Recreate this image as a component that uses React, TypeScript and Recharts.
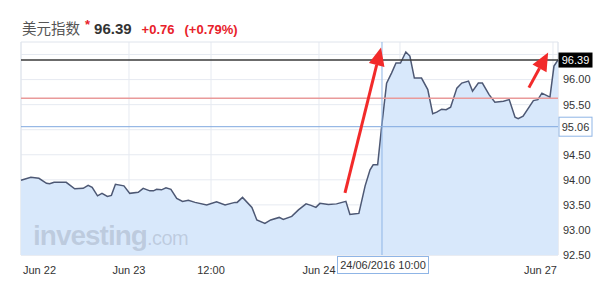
import React from "react";
import {
  ComposedChart,
  Area,
  XAxis,
  YAxis,
  CartesianGrid,
  ReferenceLine,
  ReferenceArea,
} from "recharts";

// sample position along the (gap-free) trading timeline, and the index level
const times = [
  0, 2.2, 4.0, 5.7, 6.4, 7.4, 10.1, 12.0, 13.9, 15.0, 15.9, 17.1, 18.1, 19.3, 20.2, 21.1, 23.0,
  24.3, 26.2, 27.3, 28.8, 29.6, 30.3, 31.4, 32.4, 33.5, 34.8, 36.1, 37.4, 38.9, 41.5, 43.7, 45.6,
  47.8, 48.3, 49.5, 51.6, 52.7, 54.5, 55.8, 57.7, 58.6, 60.5, 62.0, 63.7, 64.8, 65.9, 66.8, 68.7,
  70.5, 72.6, 73.5, 74.3, 75.5, 76.9, 78.0, 78.7, 79.7, 80.6, 81.7, 82.8, 83.8, 84.8, 86.0, 86.9,
  87.9, 89.5, 90.9, 92.0, 92.9, 94.0, 95.0, 96.0, 97.4, 98.5, 100.0, 100.9, 102.2, 103.1, 104.6,
  105.9, 107.8, 109.1, 110.4, 111.1, 112.2, 114.5, 115.5, 116.4, 118.2, 119.1, 120,
];
const dxy = [
  93.99, 94.05, 94.03, 93.93, 93.92, 93.95, 93.95, 93.82, 93.83, 93.89, 93.85, 93.68, 93.73, 93.67,
  93.69, 93.91, 93.88, 93.73, 93.75, 93.83, 93.78, 93.78, 93.81, 93.8, 93.84, 93.81, 93.63, 93.57,
  93.59, 93.55, 93.5, 93.56, 93.5, 93.55, 93.55, 93.65, 93.45, 93.2, 93.13, 93.2, 93.25, 93.21,
  93.27, 93.4, 93.52, 93.49, 93.45, 93.53, 93.51, 93.52, 93.57, 93.31, 93.32, 93.33, 93.88, 94.2,
  94.3, 94.3, 95.07, 95.93, 96.13, 96.33, 96.33, 96.55, 96.47, 96.03, 96.03, 95.8, 95.32, 95.35,
  95.41, 95.4, 95.45, 95.83, 95.93, 95.97, 95.77, 95.93, 95.93, 95.7, 95.55, 95.57, 95.6, 95.25,
  95.22, 95.27, 95.58, 95.6, 95.73, 95.65, 96.27, 96.39,
];

// the 5th tick sits under the crosshair date box, so its label is blank
const xTicks = [0, 24.13, 42.46, 66.59, 84.69, 118.88];
const xLabels = ["Jun 22", "Jun 23", "12:00", "Jun 24", "", "Jun 27"];
const yTicks = [92.5, 93, 93.5, 94, 94.5, 95.5, 96];
const yGrid = [92.5, 93, 93.5, 94, 94.5, 95, 95.5, 96, 96.5];

const lastPrice = 96.39;
const redLevel = 95.63;
const blueLevel = 95.06;
const cursorTime = 80.67;
const cursorLabel = "24/06/2016 10:00";

// annotation arrows: [tailTime, tailValue, tipTime, tipValue]
const arrows = [
  [72.4, 93.74, 80.45, 96.64],
  [113.5, 95.84, 117.8, 96.54],
];

const data = times.map((t, i) => ({ t, v: dxy[i] }));

const FONT = "Arial, 'Liberation Sans', sans-serif";

function XTick(props: any) {
  const { x, y, index } = props;
  const last = index === xTicks.length - 1;
  const anchor = index === 0 ? "start" : last ? "end" : "middle";
  const dx = index === 0 ? 2 : last ? 4 : 0;
  if (!xLabels[index]) return <g />;
  return (
    <text x={x + dx} y={y + 19} textAnchor={anchor} fontSize={11} fill="#333" fontFamily={FONT}>
      {xLabels[index]}
    </text>
  );
}

function PriceBox({ viewBox, value, dark }: any) {
  const x = viewBox.x + viewBox.width + 1;
  const y = viewBox.y;
  const h = dark ? 14 : 19;
  return (
    <g>
      <rect
        x={x}
        y={y - h / 2}
        width={33}
        height={h}
        fill={dark ? "#000" : "#fff"}
        stroke={dark ? "#000" : "#8fb5e6"}
      />
      <text
        x={x + 16.5}
        y={y + 4}
        textAnchor="middle"
        fontSize={11}
        fill={dark ? "#fff" : "#333"}
        fontFamily={FONT}
      >
        {value.toFixed(2)}
      </text>
    </g>
  );
}

function Arrow(props: any) {
  const { x1, y1, x2, y2 } = props;
  const ang = Math.atan2(y2 - y1, x2 - x1);
  const len = 18;
  const w = 8;
  const bx = x2 - len * Math.cos(ang);
  const by = y2 - len * Math.sin(ang);
  const px = -Math.sin(ang) * w;
  const py = Math.cos(ang) * w;
  return (
    <g>
      <line x1={x1} y1={y1} x2={bx} y2={by} stroke="#f22a2a" strokeWidth={3} />
      <polygon points={`${x2},${y2} ${bx + px},${by + py} ${bx - px},${by - py}`} fill="#f22a2a" />
    </g>
  );
}

export default function App() {
  return (
    <div style={{ position: "absolute", left: 0, top: 0, width: 600, height: 287, background: "#fff", fontFamily: FONT }}>
      <div style={{ position: "absolute", left: 22, top: 17, display: "flex", alignItems: "baseline", whiteSpace: "nowrap" }}>
        <span style={{ fontFamily: "'Noto Sans CJK SC', sans-serif", fontSize: 14.5, color: "#555" }}>美元指数</span>
        <span style={{ color: "#e8212a", fontSize: 13, fontWeight: "bold", marginLeft: 5, position: "relative", top: -5 }}>*</span>
        <span style={{ fontSize: 15, fontWeight: "bold", color: "#333", marginLeft: 4 }}>96.39</span>
        <span style={{ fontSize: 13, fontWeight: "bold", color: "#e8212a", marginLeft: 10 }}>+0.76</span>
        <span style={{ fontSize: 13, fontWeight: "bold", color: "#e8212a", marginLeft: 10 }}>(+0.79%)</span>
      </div>
      <ComposedChart
        width={600}
        height={287}
        data={data}
        margin={{ top: 42, left: 21, right: 0, bottom: 0 }}
      >
        <ReferenceArea x1={0} x2={120} y1={92.5} y2={96.75} fill="none" stroke="#dfe4ec" ifOverflow="visible" />
        <CartesianGrid stroke="#e6eaf1" horizontalValues={yGrid} />
        <XAxis
          type="number"
          dataKey="t"
          domain={[0, 120]}
          ticks={xTicks}
          height={32}
          axisLine={false}
          tickLine={false}
          tickSize={0}
          tickMargin={0}
          tick={<XTick />}
          interval={0}
        />
        <YAxis
          orientation="right"
          type="number"
          domain={[92.5, 96.75]}
          ticks={yTicks}
          width={42}
          axisLine={false}
          tickLine={false}
          tickSize={3}
          tickMargin={2}
          tickFormatter={(v: number) => v.toFixed(2)}
          tick={{ fontSize: 11, fill: "#333", fontFamily: FONT }}
          interval={0}
        />
        <Area
          type="linear"
          dataKey="v"
          stroke="#4d5874"
          strokeWidth={1.5}
          fill="#d8e8fb"
          fillOpacity={1}
          isAnimationActive={false}
          dot={false}
          activeDot={false}
        />
        <ReferenceLine y={redLevel} stroke="#e99a9a" strokeWidth={1.5} />
        <ReferenceLine
          y={blueLevel}
          stroke="#7fa8df"
          strokeWidth={1}
          label={(p: any) => <PriceBox {...p} value={blueLevel} />}
        />
        <ReferenceLine
          y={lastPrice}
          stroke="#3a3a3a"
          strokeWidth={1.5}
          label={(p: any) => <PriceBox {...p} value={lastPrice} dark />}
        />
        <ReferenceLine x={cursorTime} stroke="#8fb5e6" strokeWidth={1} />
        {arrows.map((a, i) => (
          <ReferenceLine
            key={i}
            segment={[
              { x: a[0], y: a[1] },
              { x: a[2], y: a[3] },
            ]}
            ifOverflow="visible"
            shape={(p: any) => <Arrow {...p} />}
          />
        ))}
      </ComposedChart>
      <div
        style={{
          position: "absolute",
          left: 33,
          top: 220,
          fontSize: 28,
          fontWeight: "bold",
          color: "rgba(120,130,150,0.28)",
          letterSpacing: -1,
          pointerEvents: "none",
          whiteSpace: "nowrap",
        }}
      >
        investing<span style={{ fontWeight: "normal", fontSize: 20, letterSpacing: -0.5 }}>.com</span>
      </div>
      <div
        style={{
          position: "absolute",
          left: 337,
          top: 256,
          width: 90,
          height: 16,
          border: "1px solid #8fb5e6",
          background: "#fff",
          fontSize: 11,
          color: "#333",
          lineHeight: "16px",
          textAlign: "center",
        }}
      >
        {cursorLabel}
      </div>
    </div>
  );
}
